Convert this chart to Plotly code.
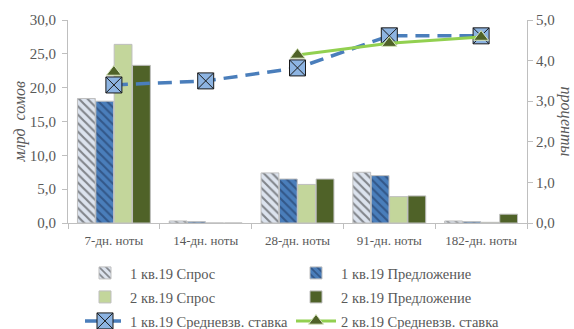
import plotly.graph_objects as go

# Categories: term of notes
categories = ["7-дн. ноты", "14-дн. ноты", "28-дн. ноты", "91-дн. ноты", "182-дн. ноты"]

# Volumes, bln som
q1_demand = [18.4, 0.3, 7.4, 7.5, 0.3]
q1_supply = [18.0, 0.2, 6.5, 7.0, 0.2]
q2_demand = [26.4, 0.0, 5.7, 3.9, 0.1]
q2_supply = [23.3, 0.0, 6.5, 4.0, 1.3]

# Weighted average rate, percent
q1_rate = [3.40, 3.50, 3.82, 4.61, 4.61]
q2_rate = [3.72, None, 4.14, 4.43, 4.58]

left_ticks = [0, 5, 10, 15, 20, 25, 30]
right_ticks = [0, 1, 2, 3, 4, 5]

FONT = "Liberation Serif"
GREY = "#595959"
EDGE = "#bfbfbf"
W, H = 574, 329

fig = go.Figure()

fig.add_trace(go.Bar(
    x=categories, y=q1_demand, name="1 кв.19 Спрос", legend="legend",
    marker=dict(color="#dce3ee", line=dict(color=EDGE, width=1),
                pattern=dict(shape="\\", fgcolor="#262626", bgcolor="#dce3ee",
                             size=6, solidity=0.35)),
))
fig.add_trace(go.Bar(
    x=categories, y=q1_supply, name="1 кв.19 Предложение", legend="legend",
    marker=dict(color="#4a7ebb", line=dict(color=EDGE, width=1),
                pattern=dict(shape="\\", fgcolor="#1b2f55", bgcolor="#4a7ebb",
                             size=6, solidity=0.35)),
))
fig.add_trace(go.Bar(
    x=categories, y=q2_demand, name="2 кв.19 Спрос", legend="legend2",
    marker=dict(color="#c3d69b", line=dict(color=EDGE, width=1)),
))
fig.add_trace(go.Bar(
    x=categories, y=q2_supply, name="2 кв.19 Предложение", legend="legend2",
    marker=dict(color="#4f6228", line=dict(color=EDGE, width=1)),
))

fig.add_trace(go.Scatter(
    x=categories, y=q1_rate, name="1 кв.19 Средневзв. ставка", yaxis="y2",
    legend="legend3", mode="lines+markers",
    line=dict(color="#4a7ebb", width=3.5, dash="14px,8px"),
    marker=dict(symbol="square-x", size=16, color="#8db4e2",
                line=dict(color="#1a1a1a", width=1)),
))
fig.add_trace(go.Scatter(
    x=categories, y=q2_rate, name="2 кв.19 Средневзв. ставка", yaxis="y2",
    legend="legend3", mode="lines+markers", connectgaps=False,
    line=dict(color="#92d050", width=3),
    marker=dict(symbol="triangle-up", size=13, color="#4f6228",
                line=dict(color="#d7e4bd", width=1)),
))


def legend_row(y_px):
    return dict(orientation="h", xref="container", yref="container",
                x=80 / W, xanchor="left", y=1 - y_px / H, yanchor="middle",
                entrywidth=156, entrywidthmode="pixels", itemwidth=40,
                bgcolor="rgba(0,0,0,0)",
                font=dict(family=FONT, size=14.5, color=GREY))


fig.update_layout(
    width=W, height=H,
    margin=dict(l=68, r=47, t=20, b=106, autoexpand=False),
    paper_bgcolor="white", plot_bgcolor="white",
    font=dict(family=FONT, size=13, color=GREY),
    separators=", ",
    barmode="group", bargap=0.2, bargroupgap=0.03,
    showlegend=True,
    legend=legend_row(273),
    legend2=legend_row(297),
    legend3=legend_row(321),
    xaxis=dict(showline=True, linecolor=EDGE, linewidth=1, ticks="outside",
               tickson="boundaries", tickcolor=EDGE, ticklen=5,
               ticklabelstandoff=5,
               tickfont=dict(family=FONT, size=13, color=GREY), showgrid=False),
    yaxis=dict(range=[0, 30], tickvals=left_ticks, tickformat=".1f",
               showline=True, linecolor=EDGE, ticks="outside", tickcolor=EDGE,
               ticklen=5, ticklabelstandoff=3, showgrid=False, zeroline=False,
               tickfont=dict(family=FONT, size=15, color=GREY)),
    yaxis2=dict(range=[0, 5], tickvals=right_ticks, tickformat=".1f",
                overlaying="y", side="right", showline=True, linecolor=EDGE,
                ticks="outside", tickcolor=EDGE, ticklen=5, showgrid=False,
                zeroline=False, tickfont=dict(family=FONT, size=15, color=GREY)),
    annotations=[
        dict(text="<i>млрд  сомов</i>", xref="paper", yref="paper",
             x=-0.1046, xanchor="center", y=0.5, yanchor="middle",
             textangle=-90, showarrow=False, font=dict(family=FONT, size=16, color=GREY)),
        dict(text="<i>проценты</i>", xref="paper", yref="paper",
             x=1.087, xanchor="center", y=0.5, yanchor="middle",
             textangle=90, showarrow=False, font=dict(family=FONT, size=16, color=GREY)),
    ],
)

fig.write_html("out.html")
